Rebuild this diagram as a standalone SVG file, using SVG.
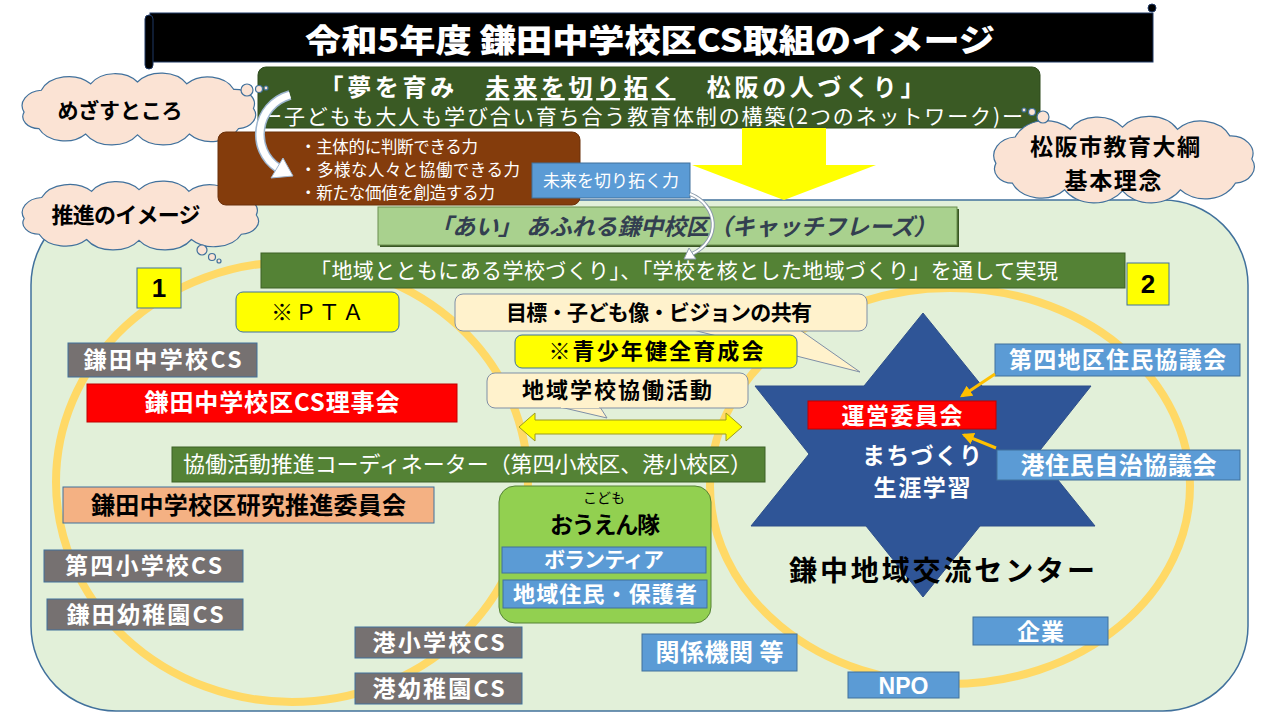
<svg xmlns="http://www.w3.org/2000/svg" xmlns:xlink="http://www.w3.org/1999/xlink" width="1280" height="720" viewBox="0 0 1280 720">
<defs>
<style>
.t{font-family:"Noto Sans CJK JP","Noto Sans CJK SC",sans-serif}
.l{font-family:"Liberation Sans",Arial,sans-serif}
.b{font-weight:700}
.w{fill:#ffffff}
.k{fill:#000000}
.c{text-anchor:middle}
.blue{fill:#5b9bd5;stroke:#41719c;stroke-width:1}
.gray{fill:#767171;stroke:#41719c;stroke-width:1}
.cream{fill:#fff2cc;stroke:#7f8fa6;stroke-width:1}
.yel{fill:#ffff00;stroke:#41719c;stroke-width:1}
.gbar{fill:#548235;stroke:#3d6126;stroke-width:1}
.cloud{fill:#fbe3d4;stroke:#41719c;stroke-width:1.2}
.ring{fill:none;stroke:#ffd966;stroke-width:8}
</style>
<path id="cloudShape" vector-effect="non-scaling-stroke" d="M 8 34 A 17 17 0 0 1 22 10 A 24 24 0 0 1 62 3 A 23 23 0 0 1 100 1 A 24 24 0 0 1 140 3 A 23 23 0 0 1 178 9 A 16 16 0 0 1 194 30 A 15 15 0 0 1 182 52 A 24 24 0 0 1 142 58 A 25 25 0 0 1 100 59 A 25 25 0 0 1 58 58 A 23 23 0 0 1 20 52 A 13 13 0 0 1 8 34 Z"/>
<marker id="oa" viewBox="0 0 10 10" refX="8" refY="5" markerWidth="4" markerHeight="4" orient="auto" markerUnits="strokeWidth">
<path d="M0,0 L10,5 L0,10 z" fill="#ffc000"/>
</marker>
</defs>
<rect x="0" y="0" width="1280" height="720" fill="#ffffff"/>

<!-- main region -->
<g id="region">
<rect x="31" y="200" width="1217" height="511" rx="85" ry="85" fill="#e2f0d9" stroke="#41719c" stroke-width="1.5"/>
<ellipse class="ring" cx="292" cy="482" rx="236" ry="220"/>
<ellipse class="ring" cx="950" cy="486" rx="240" ry="198"/>
</g>

<!-- title -->
<g id="title">
<rect x="150" y="13" width="1003" height="49" fill="#000000" stroke="#1f3864" stroke-width="1"/>
<rect x="145" y="15" width="8" height="54" rx="4" fill="#000000" stroke="#1f3864" stroke-width="1"/>
<circle cx="1152" cy="8" r="4" fill="#000000" stroke="#1f3864" stroke-width="1"/>
<text class="t w c" x="650" y="52" font-size="32" font-weight="900" textLength="690" lengthAdjust="spacingAndGlyphs">令和5年度 鎌田中学校区CS取組のイメージ</text>
</g>

<!-- green banner -->
<g id="banner">
<rect x="258" y="67" width="782" height="61" rx="8" fill="#3a5a24" stroke="#2e4a1d" stroke-width="1"/>
<text class="t w b c" x="622" y="96" font-size="24" textLength="605">「夢を育み　<tspan text-decoration="underline">未来を切り拓く</tspan>　松阪の人づくり」</text>
<text class="t w c" x="642" y="124" font-size="21" textLength="762">ー子どもも大人も学び合い育ち合う教育体制の構築(2つのネットワーク)ー</text>
</g>

<!-- clouds -->
<g id="cloud-mezasu">
<use xlink:href="#cloudShape" class="cloud" transform="translate(14.2,81.1) scale(1.233,0.9125)"/>
<circle cx="247" cy="90" r="6" class="cloud"/>
<circle cx="259" cy="89" r="3.5" class="cloud"/>
<circle cx="266" cy="88" r="2" class="cloud"/>
<text class="t b k c" x="120" y="118" font-size="21" textLength="125">めざすところ</text>
</g>
<g id="cloud-suishin">
<use xlink:href="#cloudShape" class="cloud" transform="translate(14.2,188.75) scale(1.248,0.875)"/>
<circle cx="202" cy="250" r="5" class="cloud"/>
<circle cx="212" cy="257" r="3.5" class="cloud"/>
<circle cx="219" cy="261" r="2" class="cloud"/>
<text class="t b k c" x="126" y="223" font-size="22" textLength="149">推進のイメージ</text>
</g>
<g id="cloud-taiko">
<use xlink:href="#cloudShape" class="cloud" transform="translate(984.9,126) scale(1.376,1.1)"/>
<circle cx="1043" cy="117" r="6" class="cloud"/>
<circle cx="1032" cy="112" r="3.5" class="cloud"/>
<circle cx="1024" cy="110" r="2" class="cloud"/>
<text class="t b k c" x="1115" y="155" font-size="23" textLength="170">松阪市教育大綱</text>
<text class="t b k c" x="1113" y="189" font-size="23" textLength="97">基本理念</text>
</g>

<!-- brown abilities box -->
<g id="abilities">
<rect x="218" y="132" width="362" height="73" rx="8" fill="#843c0c" stroke="#6b300a" stroke-width="1"/>
<text class="t w" x="300" y="153" font-size="16.5" textLength="178">・主体的に判断できる力</text>
<text class="t w" x="300" y="176" font-size="16.5" textLength="220">・多様な人々と協働できる力</text>
<text class="t w" x="300" y="199" font-size="16.5" textLength="195">・新たな価値を創造する力</text>
</g>

<g id="mirai">
<rect class="blue" x="532" y="163" width="158" height="35"/>
<text class="t w c" x="611" y="187" font-size="17" textLength="136">未来を切り拓く力</text>
</g>

<!-- catchphrase -->
<g id="catch">
<rect x="380" y="209" width="579" height="38" fill="#385723"/>
<rect x="378" y="207" width="579" height="38" fill="#a9d18e" stroke="#6b8e4e" stroke-width="1"/>
<text class="t b c" x="683" y="235" font-size="23" font-style="italic" fill="#333f50" textLength="507">「あい」 あふれる鎌中校区（キャッチフレーズ）</text>
</g>

<g id="realize">
<rect class="gbar" x="261" y="253" width="864" height="35"/>
<text class="t w c" x="684" y="278" font-size="21" textLength="748">「地域とともにある学校づくり」、「学校を核とした地域づくり」を通して実現</text>
</g>

<g id="num1">
<rect class="yel" x="137" y="268" width="44" height="40"/>
<text class="l b k c" x="159" y="297" font-size="26">1</text>
</g>
<g id="num2">
<rect class="yel" x="1127" y="263" width="42" height="42"/>
<text class="l b k c" x="1148" y="293" font-size="26">2</text>
</g>

<g id="pta">
<rect class="yel" x="236" y="292" width="163" height="40" rx="7"/>
<text class="t k c" x="317.5" y="320" font-size="22" textLength="93">※ＰＴＡ</text>
</g>

<!-- star -->
<g id="star">
<polygon points="923,313 982,386 1091,386 1037,454 1095,526 980,526 923,597 866,526 751,526 809,454 755,386 864,386" fill="#2f5597" stroke="#2e4f8a" stroke-width="1"/>
<text class="t w b c" x="922" y="464" font-size="23" textLength="120">まちづくり</text>
<text class="t w b c" x="922" y="496" font-size="23" textLength="97">生涯学習</text>
</g>

<g id="vision">
<polygon points="693,330 800,330 860,372" class="cream"/>
<rect class="cream" x="455" y="294" width="412" height="37" rx="8"/>
<text class="t b k c" x="659" y="320" font-size="21" textLength="306">目標・子ども像・ビジョンの共有</text>
</g>

<g id="seishonen">
<rect class="yel" x="515" y="335" width="282" height="33" rx="7"/>
<text class="t b k c" x="656" y="359" font-size="22" textLength="215">※青少年健全育成会</text>
</g>

<g id="kyodo">
<polygon points="560,407 600,407 607,418" class="cream"/>
<rect class="cream" x="487" y="373" width="261" height="35" rx="8"/>
<rect x="561" y="405" width="38" height="3" fill="#fff2cc"/>
<text class="t b k c" x="617" y="398" font-size="22" textLength="190">地域学校協働活動</text>
</g>

<g id="coordinator">
<rect class="gbar" x="172" y="447" width="593" height="35"/>
<text class="t w c" x="467.5" y="472" font-size="22" textLength="569">協働活動推進コーディネーター（第四小校区、港小校区）</text>
</g>

<g id="cs-jhs">
<rect class="gray" x="68" y="343" width="189" height="34"/>
<text class="t w b c" x="162.5" y="368" font-size="23" textLength="158">鎌田中学校CS</text>
</g>
<g id="cs-board">
<rect x="87" y="384" width="370" height="38" fill="#ff0000" stroke="#c00000" stroke-width="1"/>
<text class="t w b c" x="272" y="411" font-size="24" textLength="255">鎌田中学校区CS理事会</text>
</g>
<g id="research">
<rect x="63" y="487" width="371" height="36" fill="#f4b183" stroke="#41719c" stroke-width="1"/>
<text class="t k b c" x="248.5" y="514" font-size="24" textLength="315">鎌田中学校区研究推進委員会</text>
</g>
<g id="cs-daiyon">
<rect class="gray" x="44" y="550" width="199" height="32"/>
<text class="t w b c" x="143.5" y="574" font-size="23" textLength="157">第四小学校CS</text>
</g>
<g id="cs-kamata-kg">
<rect class="gray" x="47" y="599" width="196" height="31"/>
<text class="t w b c" x="145" y="623" font-size="23" textLength="157">鎌田幼稚園CS</text>
</g>
<g id="cs-minato">
<rect class="gray" x="355" y="627" width="167" height="31"/>
<text class="t w b c" x="438.5" y="651" font-size="23" textLength="132">港小学校CS</text>
</g>
<g id="cs-minato-kg">
<rect class="gray" x="355" y="673" width="167" height="31"/>
<text class="t w b c" x="438.5" y="697" font-size="23" textLength="132">港幼稚園CS</text>
</g>

<g id="ouentai">
<rect x="499" y="486" width="212" height="137" rx="16" fill="#92d050" stroke="#548235" stroke-width="1"/>
<text class="t k c" x="604" y="503" font-size="14">こども</text>
<text class="t k b c" x="605" y="533" font-size="23" textLength="110">おうえん隊</text>
<rect class="blue" x="502" y="547" width="204" height="26"/>
<text class="t w b c" x="604" y="567" font-size="21" textLength="120">ボランティア</text>
<rect class="blue" x="503" y="580" width="204" height="28"/>
<text class="t w b c" x="605" y="602" font-size="22" textLength="184">地域住民・保護者</text>
</g>

<g id="kankei">
<rect class="blue" x="642" y="634" width="155" height="37"/>
<text class="t w b c" x="719.5" y="661" font-size="24" textLength="128">関係機関 等</text>
</g>
<g id="npo">
<rect class="blue" x="848" y="672" width="111" height="26"/>
<text class="l w b c" x="903.5" y="694" font-size="23">NPO</text>
</g>
<g id="kigyo">
<rect class="blue" x="973" y="617" width="135" height="28"/>
<text class="t w b c" x="1040.5" y="640" font-size="23" textLength="47">企業</text>
</g>
<g id="daiyon-kyogikai">
<rect class="blue" x="995" y="344" width="245" height="32"/>
<text class="t w b c" x="1117.5" y="368" font-size="23" textLength="217">第四地区住民協議会</text>
</g>
<g id="minato-kyogikai">
<rect class="blue" x="997" y="450" width="243" height="30"/>
<text class="t w b c" x="1118.5" y="474" font-size="24" textLength="196">港住民自治協議会</text>
</g>
<g id="unei">
<rect x="808" y="401" width="188" height="28" fill="#ff0000" stroke="#c00000" stroke-width="1"/>
<text class="t w b c" x="902" y="424" font-size="23" textLength="121">運営委員会</text>
</g>

<g id="center-label">
<text class="t k b c" x="942" y="581" font-size="28" textLength="306">鎌中地域交流センター</text>
</g>

<!-- connectors -->
<g id="connectors">
<polygon points="742,128 826,128 826,165 876,165 784,200 692,165 742,165" fill="#ffff00"/>
<path d="M 290 95 C 255 105, 250 150, 278 168" fill="none" stroke="#9db5cf" stroke-width="10"/>
<path d="M 290 95 C 255 105, 250 150, 278 168" fill="none" stroke="#ffffff" stroke-width="7"/>
<polygon points="283,158 293,176 271,178" fill="#ffffff" stroke="#9db5cf" stroke-width="1"/>
<path d="M 690 194 C 718 205, 722 240, 692 254" fill="none" stroke="#8c9bab" stroke-width="4"/>
<path d="M 690 194 C 718 205, 722 240, 692 254" fill="none" stroke="#ffffff" stroke-width="2"/>
<polygon points="689,248 684,259 696,259" fill="#ffffff" stroke="#8c9bab" stroke-width="1"/>
<polygon points="519,427 535,413 535,420 726,420 726,413 742,427 726,441 726,434 535,434 535,441" fill="#ffff00" stroke="#9a9a20" stroke-width="1"/>
<line x1="995" y1="374" x2="962" y2="396" stroke="#ffc000" stroke-width="3" marker-end="url(#oa)"/>
<line x1="996" y1="448" x2="964" y2="435" stroke="#ffc000" stroke-width="3" marker-end="url(#oa)"/>
</g>
</svg>
